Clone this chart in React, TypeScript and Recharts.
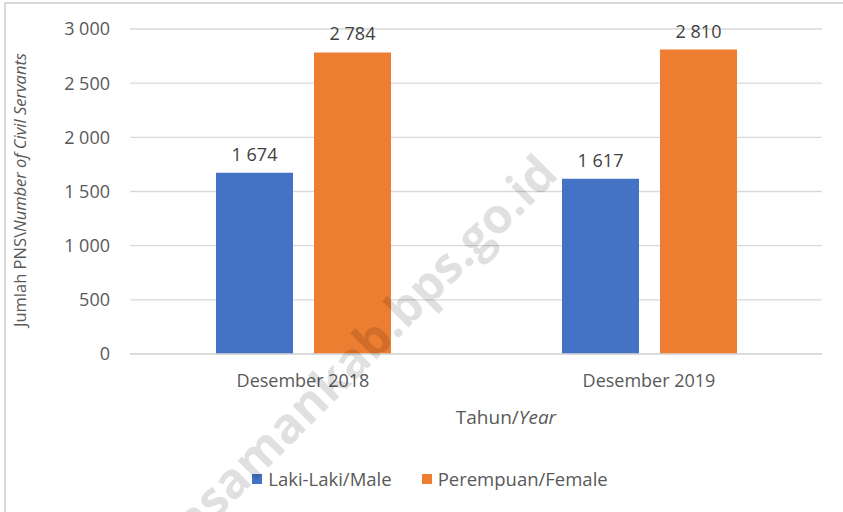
import React from 'react';
import { BarChart, Bar, XAxis, YAxis, CartesianGrid, Legend, LabelList } from 'recharts';

const periods = ['Desember 2018', 'Desember 2019'];
const male = [1674, 1617];
const female = [2784, 2810];
const yTicks = [0, 500, 1000, 1500, 2000, 2500, 3000];

const seriesNames = { male: 'Laki-Laki/Male', female: 'Perempuan/Female' };
const colors = { male: '#4472C4', female: '#ED7D31' };

const data = periods.map((p, i) => ({ period: p, male: male[i], female: female[i] }));

const FONT = '"Open Sans", sans-serif';
const TEXT = '#595959';

const fmt = (v: number) => String(v).replace(/\B(?=(\d{3})+(?!\d))/g, ' ');

const YLabel = () => (
  <text
    x={19}
    y={190}
    transform="rotate(-90 19 190)"
    textAnchor="middle"
    dominantBaseline="central"
    fontFamily={FONT}
    fontSize={16.5}
    fill={TEXT}
  >
    <tspan>Jumlah PNS\</tspan>
    <tspan fontStyle="italic">Number of Civil Servants</tspan>
  </text>
);

const XLabel = () => (
  <text x={506} y={424} textAnchor="middle" fontFamily={FONT} fontSize={19} fill={TEXT}>
    <tspan>Tahun/</tspan>
    <tspan fontStyle="italic">Year</tspan>
  </text>
);

const LegendBox = () => (
  <div
    style={{
      display: 'flex',
      justifyContent: 'center',
      alignItems: 'flex-start',
      gap: 30,
      fontFamily: FONT,
      fontSize: 18.5,
      lineHeight: '25px',
      color: TEXT,
      height: 46,
      paddingLeft: 38,
      boxSizing: 'border-box',
    }}
  >
    {(['male', 'female'] as const).map((k) => (
      <div key={k} style={{ display: 'flex', alignItems: 'center' }}>
        <span style={{ width: 10, height: 10, background: colors[k], marginRight: 6, display: 'inline-block' }} />
        <span>{seriesNames[k]}</span>
      </div>
    ))}
  </div>
);

export default function App() {
  return (
    <div style={{ position: 'absolute', left: 0, top: 0, width: 843, height: 512, background: '#fff' }}>
      <div
        style={{
          position: 'absolute',
          left: 4,
          top: 2,
          width: 860,
          height: 530,
          border: '2px solid #d9d9d9',
          boxSizing: 'border-box',
        }}
      />
      <BarChart
        width={843}
        height={512}
        data={data}
        margin={{ top: 29, right: 21, bottom: 0, left: 0 }}
        barSize={77}
        barGap={21}
      >
        <CartesianGrid vertical={false} stroke="#d9d9d9" strokeWidth={1.3} />
        <XAxis
          dataKey="period"
          height={112}
          axisLine={{ stroke: '#d9d9d9', strokeWidth: 1.3 }}
          tickLine={false}
          tickSize={0}
          tickMargin={20}
          tick={{ fill: TEXT, fontFamily: FONT, fontSize: 18 }}
          label={<XLabel />}
        />
        <YAxis
          width={130}
          domain={[0, 3000]}
          ticks={yTicks}
          tickFormatter={fmt}
          axisLine={false}
          tickLine={false}
          tickSize={0}
          tickMargin={20}
          tick={{ fill: TEXT, fontFamily: FONT, fontSize: 18 }}
          label={<YLabel />}
        />
        <Legend verticalAlign="bottom" content={<LegendBox />} />
        <Bar dataKey="male" name={seriesNames.male} fill={colors.male} isAnimationActive={false}>
          <LabelList dataKey="male" position="top" offset={12} formatter={(v: any) => fmt(v)} fill="#404040" fontFamily={FONT} fontSize={18} />
        </Bar>
        <Bar dataKey="female" name={seriesNames.female} fill={colors.female} isAnimationActive={false}>
          <LabelList dataKey="female" position="top" offset={12} formatter={(v: any) => fmt(v)} fill="#404040" fontFamily={FONT} fontSize={18} />
        </Bar>
      </BarChart>
      <svg width={843} height={512} style={{ position: 'absolute', left: 0, top: 0, pointerEvents: 'none' }}>
        <text
          x={560}
          y={176}
          transform="rotate(-45 560 176)"
          textAnchor="end"
          fontFamily={FONT}
          fontWeight="bold"
          fontSize={49}
          fill="#000"
          fillOpacity={0.12}
        >
          pasamankab.bps.go.id
        </text>
      </svg>
    </div>
  );
}
